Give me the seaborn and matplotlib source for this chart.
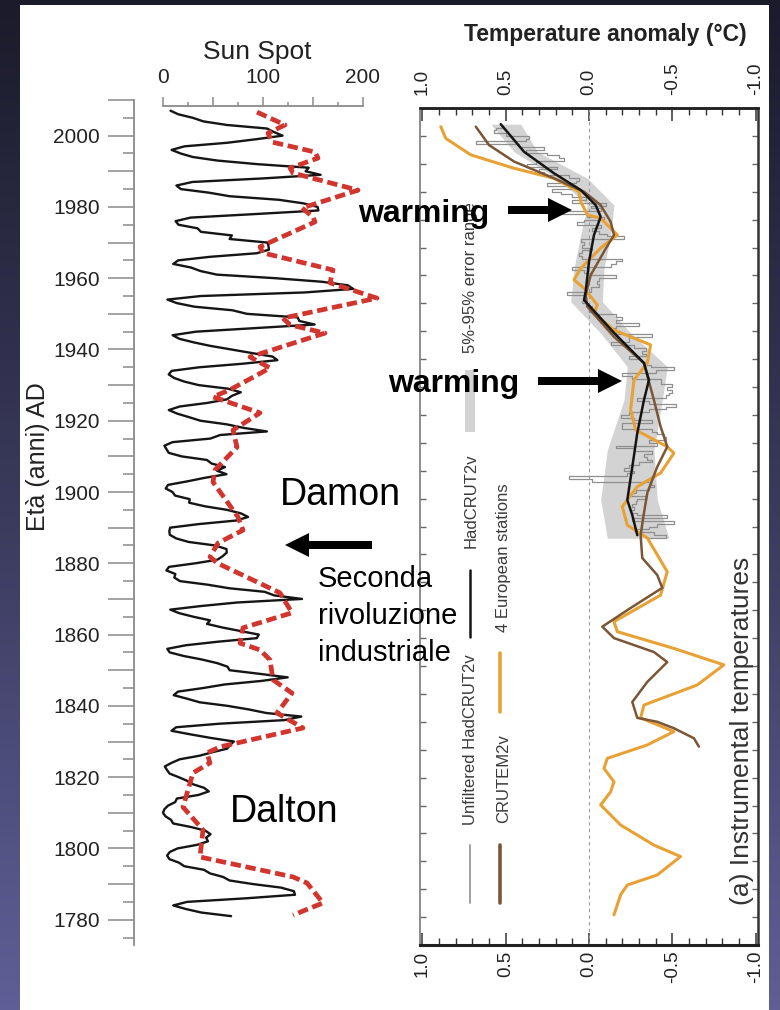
import numpy as np
import matplotlib
matplotlib.use("Agg")
import matplotlib.pyplot as plt
import seaborn as sns
from matplotlib.patches import FancyArrow, Rectangle
from matplotlib.ticker import FixedLocator, FuncFormatter
from matplotlib.colors import LinearSegmentedColormap

# ---------------- data ----------------
# annual sunspot number (black line)
sun_years = list(range(1781, 2008))
sun_values = [68.1, 38.5, 22.8, 10.2, 24.1, 82.9, 132.0, 130.9, 118.1, 89.9,
              66.6, 60.0, 46.9, 41.0, 21.3, 16.0, 6.4, 4.1, 6.8, 14.5,
              34.0, 45.0, 43.1, 47.5, 42.2, 28.1, 10.1, 8.1, 2.5, 0.0,
              1.4, 5.0, 12.2, 13.9, 35.4, 45.8, 41.1, 30.1, 23.9, 15.6,
              6.6, 4.0, 1.8, 8.5, 16.6, 36.3, 49.6, 64.2, 67.0, 70.9,
              47.8, 27.5, 8.5, 13.2, 56.9, 121.5, 138.3, 103.2, 85.7, 64.6,
              36.7, 24.2, 10.7, 15.0, 40.1, 61.5, 98.5, 124.7, 96.3, 66.6,
              64.5, 54.1, 39.0, 20.6, 6.7, 4.3, 22.7, 54.8, 93.8, 95.8,
              77.2, 59.1, 44.0, 47.0, 30.5, 16.3, 7.3, 37.6, 74.0, 139.0,
              111.2, 101.6, 66.2, 44.7, 17.0, 11.3, 12.4, 3.4, 6.0, 32.3,
              54.3, 59.7, 63.7, 63.5, 52.2, 25.4, 13.1, 6.8, 6.3, 7.1,
              35.6, 73.0, 85.1, 78.0, 64.0, 41.8, 26.2, 26.7, 12.1, 9.5,
              2.7, 5.0, 24.4, 42.0, 63.5, 53.8, 62.0, 48.5, 43.9, 18.6,
              5.7, 3.6, 1.4, 9.6, 47.4, 57.1, 103.9, 80.6, 63.6, 37.6,
              26.1, 14.2, 5.8, 16.7, 44.3, 63.9, 69.0, 77.8, 64.9, 35.7,
              21.2, 11.1, 5.7, 8.7, 36.1, 79.7, 114.4, 109.6, 88.8, 67.8,
              47.5, 30.6, 16.3, 9.6, 33.2, 92.6, 151.6, 136.3, 134.7, 83.9,
              69.4, 31.5, 13.9, 4.4, 38.0, 141.7, 190.2, 184.8, 159.0, 112.3,
              53.9, 37.6, 27.9, 10.2, 15.1, 47.0, 93.8, 105.9, 105.5, 104.5,
              66.6, 68.9, 38.0, 34.5, 15.5, 12.6, 27.5, 92.5, 155.4, 154.6,
              140.4, 115.9, 66.6, 45.9, 17.9, 13.4, 29.4, 100.2, 157.6, 142.6,
              145.7, 94.3, 54.6, 29.9, 17.5, 8.6, 21.5, 64.3, 93.3, 119.6,
              111.0, 104.0, 63.7, 40.4, 29.8, 15.2, 7.5]

# red dashed curve
red_years = [2006.6, 2003.0, 2000.7, 1998.2, 1995.4, 1993.7, 1990.9, 1989.5, 1984.7, 1979.7,
             1977.2, 1975.8, 1968.8, 1967.1, 1962.3, 1958.7, 1954.4, 1948.8, 1946.9, 1944.6,
             1937.9, 1934.8, 1928.7, 1926.7, 1922.2, 1917.4, 1912.6, 1906.2, 1902.8, 1893.0,
             1889.3, 1885.7, 1881.8, 1880.1, 1871.7, 1866.1, 1861.9, 1857.6, 1855.7, 1852.9,
             1847.3, 1843.6, 1838.0, 1833.8, 1828.5, 1826.8, 1824.0, 1821.2, 1811.6, 1805.2,
             1797.6, 1792.0, 1790.3, 1784.7, 1781.3]
red_values = [94, 122, 105, 109, 152, 155, 127, 130, 195, 139,
              150, 152, 97, 100, 170, 167, 214, 120, 127, 162,
              87, 107, 67, 50, 97, 70, 74, 52, 50, 75,
              80, 55, 47, 54, 117, 129, 80, 77, 97, 107,
              110, 129, 114, 140, 57, 44, 47, 30, 20, 40,
              37, 130, 144, 160, 130]

# HadCRUT2v smoothed (black)
had_years = [2004.2, 1994.3, 1986.6, 1980.6, 1975.2, 1971.0, 1964.5, 1954.9, 1944.2, 1941.2,
             1929.4, 1918.6, 1912.5, 1905.3, 1893.5, 1881.3, 1869.5, 1864.1, 1856.9]
had_values = [0.53, 0.39, 0.21, 0.05, -0.04, -0.07, -0.03, 0.0, 0.02, 0.03,
              -0.15, -0.33, -0.36, -0.33, -0.29, -0.26, -0.23, -0.26, -0.29]

# CRUTEM2v (brown)
cru_years = [2003.3, 1996.7, 1990.8, 1984.8, 1980.0, 1975.2, 1969.2, 1964.5, 1958.5, 1950.1,
             1943.0, 1938.8, 1928.0, 1918.6, 1905.3, 1895.8, 1888.6, 1881.4, 1872.0, 1864.8,
             1856.9, 1848.7, 1842.6, 1838.0, 1830.8, 1824.1, 1820.0, 1815.0, 1811.4, 1804.3,
             1797.1, 1791.4, 1790.0, 1787.7, 1784.1, 1781.1]
cru_values = [0.68, 0.60, 0.45, 0.21, 0.03, -0.07, -0.13, -0.15, -0.09, -0.01,
              0.02, 0.01, -0.15, -0.33, -0.39, -0.43, -0.47, -0.41, -0.35, -0.33,
              -0.31, -0.32, -0.41, -0.44, -0.25, -0.08, -0.15, -0.39, -0.47, -0.35,
              -0.26, -0.29, -0.41, -0.51, -0.63, -0.66]

# 4 European stations (orange)
eur_years = [2003.3, 1999.1, 1993.2, 1988.4, 1984.8, 1980.0, 1976.5, 1971.7, 1970.5, 1964.5,
             1959.8, 1952.5, 1948.4, 1945.4, 1939.4, 1936.4, 1930.4, 1925.1, 1918.6, 1912.5,
             1901.8, 1894.6, 1888.6, 1886.3, 1879.2, 1874.3, 1867.1, 1860.5, 1855.9, 1843.8,
             1835.4, 1825.9, 1822.3, 1816.3, 1810.4, 1803.2, 1796.0, 1791.4, 1786.5, 1781.7,
             1776.9, 1773.3, 1768.5, 1764.9, 1760.2, 1753.0, 1745.8, 1741.7, 1735.1, 1731.5,
             1728.0, 1720.8]
eur_values = [0.89, 0.86, 0.71, 0.45, 0.21, 0.06, 0.05, 0.01, -0.07, -0.17,
              -0.07, 0.05, 0.09, 0.03, -0.05, -0.03, -0.15, -0.37, -0.35, -0.27,
              -0.25, -0.28, -0.47, -0.51, -0.43, -0.29, -0.20, -0.23, -0.35, -0.47,
              -0.43, -0.15, -0.17, -0.51, -0.81, -0.65, -0.33, -0.31, -0.51, -0.35,
              -0.11, -0.09, -0.15, -0.13, -0.07, -0.19, -0.39, -0.55, -0.41, -0.23,
              -0.19, -0.15]

# 5%-95% error range (grey band)
band_years = [2004.2, 1994.3, 1984.8, 1975.2, 1964.5, 1952.5, 1940.6, 1929.3, 1917.3, 1905.3,
              1887.4, 1869.5, 1855.8]
band_hi = [0.59, 0.45, 0.19, 0.01, 0.05, 0.09, 0.11, -0.07, -0.23, -0.21, -0.11, -0.07, -0.11]
band_lo = [0.41, 0.31, 0.01, -0.15, -0.13, -0.09, -0.08, -0.25, -0.47, -0.44, -0.39, -0.41, -0.48]

# unfiltered HadCRUT2v annual anomalies
unf_years = list(range(1856, 2005))
unf_values = [-0.35, -0.46, -0.39, -0.28, -0.36, -0.41, -0.51, -0.26, -0.47, -0.29,
              -0.25, -0.27, -0.26, -0.28, -0.29, -0.34, -0.25, -0.28, -0.36, -0.39,
              -0.37, -0.02, 0.12, -0.23, -0.27, -0.21, -0.24, -0.30, -0.38, -0.35,
              -0.33, -0.38, -0.27, -0.16, -0.41, -0.36, -0.46, -0.45, -0.41, -0.38,
              -0.20, -0.20, -0.38, -0.27, -0.19, -0.24, -0.36, -0.46, -0.52, -0.36,
              -0.29, -0.46, -0.48, -0.50, -0.47, -0.50, -0.43, -0.43, -0.26, -0.20,
              -0.40, -0.51, -0.37, -0.34, -0.31, -0.24, -0.34, -0.32, -0.34, -0.27,
              -0.13, -0.24, -0.24, -0.38, -0.16, -0.12, -0.16, -0.30, -0.16, -0.20,
              -0.16, -0.04, 0.00, -0.02, 0.02, 0.04, 0.02, 0.02, 0.13, -0.01,
              -0.01, -0.06, -0.05, -0.06, -0.16, -0.01, 0.03, 0.10, -0.13, -0.16,
              -0.20, 0.04, 0.06, 0.04, -0.02, 0.04, 0.03, 0.05, -0.21, -0.11,
              -0.06, -0.02, -0.07, 0.07, 0.03, -0.09, 0.01, 0.16, -0.07, -0.01,
              -0.10, 0.10, 0.02, 0.10, 0.17, 0.22, 0.08, 0.25, 0.08, 0.06,
              0.12, 0.27, 0.30, 0.19, 0.37, 0.32, 0.15, 0.18, 0.25, 0.38,
              0.27, 0.42, 0.68, 0.38, 0.36, 0.50, 0.57, 0.56, 0.52]

sun_ticks = [0, 50, 100, 150, 200]
sun_minor = [25, 75, 125, 175]
year_major = list(range(1780, 2011, 10))
year_minor = list(range(1775, 2010, 10))
temp_major = [1.0, 0.5, 0.0, -0.5, -1.0]
temp_minor = [0.9, 0.8, 0.7, 0.6, 0.4, 0.3, 0.2, 0.1, -0.1, -0.2, -0.3, -0.4,
              -0.6, -0.7, -0.8, -0.9]
right_year_ticks = list(range(1710, 2011, 10))

# ---------------- style ----------------
sns.set_theme(style="white")
plt.rcParams['font.family'] = ['Liberation Sans', 'DejaVu Sans']
plt.rcParams['axes.unicode_minus'] = False

W, H = 780, 1010
fig = plt.figure(figsize=(7.8, 10.1), dpi=100)


def rect(x0, y0, x1, y1):
    return [x0 / W, 1 - y1 / H, (x1 - x0) / W, (y1 - y0) / H]


# background (slide)
bg = fig.add_axes([0, 0, 1, 1], zorder=0)
bg.set_xlim(0, W)
bg.set_ylim(H, 0)
grad = np.linspace(0, 1, 256).reshape(-1, 1)
cmap = LinearSegmentedColormap.from_list('slide', ['#1b1b2b', '#3a3a5c', '#5f5f97'])
bg.imshow(grad, aspect='auto', cmap=cmap, extent=(0, W, H, 0), origin='upper')
bg.add_patch(Rectangle((20, 5), 749, 1010, facecolor='white', edgecolor='none'))
bg.axis('off')

BLACK = '#151515'
RED = '#d1352e'
ORANGE = '#e8a135'
BROWN = '#7a5636'
GREY = '#8f8f8f'
BAND = '#d3d3d3'

# ---------------- left panel: sunspots ----------------
ax1 = fig.add_axes(rect(134, 100, 400, 945), zorder=2)
ax1.patch.set_alpha(0)
sns.lineplot(x=sun_values, y=sun_years, sort=False, estimator=None,
             color=BLACK, lw=1.7, ax=ax1)
sns.lineplot(x=red_values, y=red_years, sort=False, estimator=None,
             color=RED, lw=3.4, linestyle=(0, (2.2, 1.0)), ax=ax1)
ax1.set_xlim(-29, 237)
ax1.set_ylim(1772.9, 2010)
ax1.set_xlabel('')
ax1.set_ylabel('')
for s in ['right', 'bottom']:
    ax1.spines[s].set_visible(False)
ax1.spines['left'].set_color('#8a8a8a')
ax1.spines['left'].set_linewidth(1.3)
ax1.spines['top'].set_color('#8a8a8a')
ax1.spines['top'].set_linewidth(1.3)
ax1.spines['top'].set_position(('axes', (945 - 106) / 845))
ax1.spines['top'].set_bounds(0, 200)
ax1.xaxis.set_ticks_position('top')
ax1.xaxis.set_major_locator(FixedLocator(sun_ticks))
ax1.xaxis.set_minor_locator(FixedLocator(sun_minor))
ax1.xaxis.set_major_formatter(FuncFormatter(lambda v, p: f"{int(v)}" if int(v) % 100 == 0 else ""))
ax1.tick_params(axis='x', which='major', direction='out', length=6.5, width=1.1,
                color='#8a8a8a', labelsize=15, pad=7.5, labelcolor='#222222',
                top=True, bottom=False, labeltop=True, labelbottom=False)
ax1.tick_params(axis='x', which='minor', direction='out', length=3, width=1.1,
                color='#8a8a8a', top=True, bottom=False)
ax1.yaxis.set_major_locator(FixedLocator(year_major))
ax1.yaxis.set_minor_locator(FixedLocator(year_minor))
ax1.yaxis.set_major_formatter(FuncFormatter(lambda v, p: f"{int(round(v))}" if int(round(v)) % 20 == 0 else ""))
ax1.tick_params(axis='y', which='major', direction='out', length=19, width=1.1,
                color='#8a8a8a', labelsize=15, pad=5.5, labelcolor='#222222',
                left=True, right=False)
ax1.tick_params(axis='y', which='minor', direction='out', length=8, width=1.1,
                color='#8a8a8a', left=True, right=False)

# ---------------- right panel: temperatures ----------------
ax2 = fig.add_axes(rect(420, 108, 758, 945), zorder=2)
ax2.patch.set_alpha(0)
ax2.fill_betweenx(band_years, band_lo, band_hi, color=BAND, lw=0, zorder=1)
ax2.axvline(0, color='#9a9a9a', lw=0.8, ls=(0, (3, 3)), zorder=1.5)
sns.lineplot(x=unf_values, y=unf_years, sort=False, estimator=None,
             drawstyle='steps-post', color=GREY, lw=0.9, ax=ax2, zorder=2)
sns.lineplot(x=eur_values, y=eur_years, sort=False, estimator=None,
             color=ORANGE, lw=2.2, ax=ax2, zorder=3)
sns.lineplot(x=cru_values, y=cru_years, sort=False, estimator=None,
             color=BROWN, lw=1.8, ax=ax2, zorder=4)
sns.lineplot(x=had_values, y=had_years, sort=False, estimator=None,
             color=BLACK, lw=1.8, ax=ax2, zorder=5)
ax2.set_xlim(1.015, -1.015)
ax2.set_ylim(1710, 2010)
ax2.set_xlabel('')
ax2.set_ylabel('')
for s, c, w in [('top', '#222222', 1.8), ('bottom', '#222222', 2.2),
                ('left', '#7a7a7a', 1.2), ('right', '#333333', 1.8)]:
    ax2.spines[s].set_visible(True)
    ax2.spines[s].set_color(c)
    ax2.spines[s].set_linewidth(w)

fmt_t = FuncFormatter(lambda v, p: f"{v:.1f}".replace('-0.0', '0.0'))
ax2.xaxis.set_major_locator(FixedLocator(temp_major))
ax2.xaxis.set_minor_locator(FixedLocator(temp_minor))
ax2.xaxis.set_major_formatter(fmt_t)
ax2.tick_params(axis='x', which='major', direction='in', length=9, width=1.1, color='#333333',
                top=False, bottom=True, labeltop=False, labelbottom=True,
                labelrotation=90, labelsize=13.5, pad=4, labelcolor='#222222')
ax2.tick_params(axis='x', which='minor', direction='in', length=5, width=1.0, color='#333333',
                top=False, bottom=True)
ax2.yaxis.set_major_locator(FixedLocator(right_year_ticks))
ax2.tick_params(axis='y', which='major', direction='in', length=4, width=1.0, color='#666666',
                left=True, right=True, labelleft=False, labelright=False)
ax2.tick_params(axis='y', which='minor', left=False, right=False)

sec = ax2.secondary_xaxis('top')
sec.xaxis.set_major_locator(FixedLocator(temp_major))
sec.xaxis.set_minor_locator(FixedLocator(temp_minor))
sec.xaxis.set_major_formatter(fmt_t)
sec.spines['top'].set_color('#222222')
sec.spines['top'].set_linewidth(1.8)
sec.tick_params(axis='x', which='major', direction='in', length=9, width=1.1, color='#333333',
                labelrotation=90, labelsize=13.5, pad=9, labelcolor='#222222')
sec.tick_params(axis='x', which='minor', direction='in', length=5, width=1.0, color='#333333')

# legend inside right panel (rotated)
TXT = '#3a3a3a'
ax2.add_patch(Rectangle((0.148 - 0.016, 0.613), 0.032, 0.074, transform=ax2.transAxes,
                        facecolor=BAND, edgecolor='none'))
ax2.plot([0.148, 0.148], [0.368, 0.448], transform=ax2.transAxes, color=BLACK, lw=1.8)
ax2.plot([0.148, 0.148], [0.050, 0.119], transform=ax2.transAxes, color=GREY, lw=1.2)
ax2.plot([0.237, 0.237], [0.278, 0.349], transform=ax2.transAxes, color=ORANGE, lw=2.6)
ax2.plot([0.237, 0.237], [0.050, 0.119], transform=ax2.transAxes, color=BROWN, lw=2.6)
for t, x, y in [("5%-95% error range", 0.148, 0.707), ("HadCRUT2v", 0.151, 0.474),
                ("Unfiltered HadCRUT2v", 0.148, 0.143), ("4 European stations", 0.246, 0.374),
                ("CRUTEM2v", 0.246, 0.146)]:
    ax2.text(x, y, t, transform=ax2.transAxes, rotation=90, ha='center', va='bottom',
             fontsize=12, color=TXT)
ax2.text(0.953, 0.048, "(a) Instrumental temperatures", transform=ax2.transAxes,
         rotation=90, ha='center', va='bottom', fontsize=19, color='#333333')

# ---------------- overlay: titles and annotations (pixel coords) ----------------
ov = fig.add_axes([0, 0, 1, 1], zorder=5)
ov.patch.set_alpha(0)
ov.set_xlim(0, W)
ov.set_ylim(H, 0)
ov.axis('off')

ov.text(257, 59, "Sun Spot", ha='center', va='baseline', fontsize=19, color='#222222')
ov.text(605, 41, "Temperature anomaly (°C)", ha='center', va='baseline', fontsize=16.5,
        fontweight='bold', color='#222222')
ov.text(38, 457, "Età (anni) AD", rotation=90, ha='center', va='center', fontsize=18,
        color='#222222')

ov.text(358, 222, "warming", ha='left', va='baseline', fontsize=23, fontweight='bold', color='black')
ov.text(388, 392, "warming", ha='left', va='baseline', fontsize=23, fontweight='bold', color='black')
ov.text(280, 505, "Damon", ha='left', va='baseline', fontsize=27, color='black')
ov.text(318, 587, "Seconda", ha='left', va='baseline', fontsize=21, color='black')
ov.text(318, 624, "rivoluzione", ha='left', va='baseline', fontsize=21, color='black')
ov.text(318, 661, "industriale", ha='left', va='baseline', fontsize=21, color='black')
ov.text(230, 822, "Dalton", ha='left', va='baseline', fontsize=27, color='black')

for x0, x1, y in [(508, 572, 210), (538, 622, 381), (372, 285, 545)]:
    ov.add_patch(FancyArrow(x0, y, x1 - x0, 0, width=8, head_width=24, head_length=24,
                            length_includes_head=True, color='black', lw=0))

fig.savefig('out.png', dpi=100)
